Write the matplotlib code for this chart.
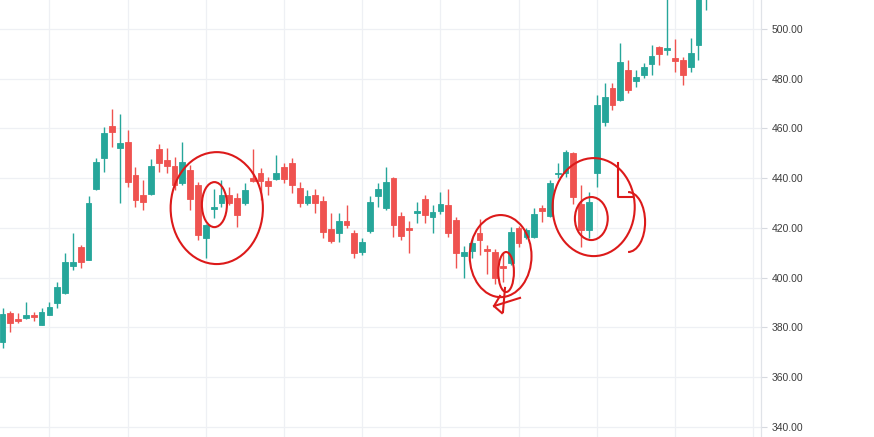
import matplotlib
matplotlib.use("Agg")
import matplotlib.pyplot as plt
from matplotlib.patches import Ellipse, Arc

# candle data (index = candle number)
opens = [374.0, 386.0, 383.5, 384.0, 384.9, 381.0, 385.0, 389.7, 393.7, 404.7,
         412.2, 407.1, 435.6, 448.0, 461.0, 452.0, 454.7, 441.3, 433.3, 433.7,
         451.6, 447.3, 445.0, 438.0, 443.3, 437.3, 415.9, 427.5, 429.9, 433.3,
         431.9, 429.9, 440.0, 442.0, 439.0, 439.6, 444.6, 446.0, 436.0, 430.2,
         433.3, 430.8, 419.6, 417.9, 422.9, 417.9, 410.5, 418.9, 432.9, 427.9,
         440.0, 424.9, 419.9, 425.9, 431.5, 424.5, 427.0, 429.2, 423.2, 408.8,
         410.9, 417.9, 411.6, 410.5, 404.7, 405.8, 419.9, 416.5, 416.2, 428.1,
         424.8, 441.6, 442.2, 450.0, 429.5, 419.2, 442.0, 462.7, 476.1, 471.5,
         483.5, 479.2, 481.5, 485.9, 492.6, 491.6, 488.2, 487.5, 484.8, 493.6,
         518.0]
highs = [387.8, 386.8, 386.0, 390.4, 386.2, 387.7, 390.4, 398.2, 410.1, 417.9,
         413.2, 432.9, 448.0, 460.7, 467.7, 465.8, 459.4, 444.6, 439.3, 447.6,
         453.6, 452.0, 448.7, 454.7, 445.3, 438.6, 421.5, 435.5, 439.3, 436.6,
         434.0, 438.0, 451.6, 444.0, 440.6, 449.3, 446.0, 448.0, 438.6, 435.3,
         435.6, 432.9, 425.9, 425.9, 429.2, 419.2, 415.9, 432.9, 438.0, 444.4,
         440.6, 426.6, 422.7, 430.6, 433.3, 429.2, 434.6, 435.6, 424.3, 412.8,
         415.9, 423.5, 413.2, 411.4, 409.8, 420.5, 420.8, 420.0, 427.9, 429.2,
         439.3, 446.0, 451.4, 450.7, 437.3, 434.6, 473.5, 478.2, 478.2, 494.5,
         487.5, 483.5, 486.2, 493.6, 493.2, 515.0, 495.8, 488.9, 496.2, 520.0,
         530.0]
lows = [371.8, 378.3, 381.8, 383.4, 382.6, 381.0, 384.9, 387.7, 393.5, 403.1,
        403.8, 407.0, 435.3, 442.6, 452.7, 429.9, 436.6, 428.6, 427.2, 433.3,
        442.6, 442.2, 435.3, 437.3, 427.2, 415.2, 407.8, 423.9, 428.6, 429.2,
        420.5, 429.2, 438.6, 431.3, 433.3, 439.3, 438.0, 434.0, 428.3, 429.2,
        426.2, 415.9, 413.8, 414.5, 419.9, 407.8, 409.2, 417.9, 428.6, 427.2,
        416.3, 415.2, 409.8, 421.9, 421.9, 417.9, 425.6, 416.5, 403.8, 399.8,
        407.8, 409.2, 401.5, 397.5, 398.4, 405.1, 412.4, 415.5, 415.9, 422.5,
        424.3, 440.0, 440.4, 429.6, 412.4, 415.9, 436.6, 461.0, 467.4, 471.2,
        474.1, 476.8, 480.2, 481.5, 485.5, 489.5, 482.8, 477.5, 482.8, 487.5,
        507.5]
closes = [385.4, 381.8, 382.6, 384.9, 384.2, 386.2, 388.1, 396.4, 406.5, 406.5,
          406.5, 429.9, 446.7, 458.1, 458.7, 454.3, 438.6, 431.3, 430.6, 444.9,
          446.0, 444.9, 437.3, 446.4, 431.7, 417.2, 421.2, 428.3, 433.3, 429.9,
          425.2, 435.3, 439.0, 439.0, 436.9, 442.0, 439.6, 437.3, 429.9, 432.7,
          429.9, 418.5, 414.9, 422.9, 421.2, 409.8, 414.3, 430.6, 435.6, 438.6,
          421.2, 416.8, 419.2, 426.8, 425.2, 426.3, 429.5, 417.9, 410.1, 410.5,
          414.1, 415.2, 410.9, 399.8, 403.8, 418.5, 413.8, 419.0, 425.6, 426.9,
          438.2, 442.2, 450.7, 432.6, 419.2, 430.6, 469.4, 472.8, 469.4, 486.9,
          475.5, 480.6, 484.9, 489.1, 490.0, 492.5, 487.3, 481.5, 490.5, 516.0,
          525.0]

price_ticks = [340, 360, 380, 400, 420, 440, 460, 480, 500]

up_col = '#26a69a'
down_col = '#ef5350'
pen = '#dc1a1a'

fig = plt.figure(figsize=(8.74, 4.37), dpi=100)
ax = fig.add_axes([0, 0, 760.7 / 874, 1])

n = len(opens)
idx = list(range(n))
cols = [up_col if c >= o else down_col for o, c in zip(opens, closes)]
bottoms = [min(o, c) for o, c in zip(opens, closes)]
heights = [abs(c - o) for o, c in zip(opens, closes)]

ax.vlines(idx, lows, highs, colors=cols, linewidth=1.0, zorder=3)
ax.bar(idx, heights, bottom=bottoms, width=0.74, color=cols,
       edgecolor=cols, linewidth=0.6, zorder=4)

ax.set_xlim(-0.32, 96.96)
ax.set_ylim(335.97, 511.66)

# grid
for p in price_ticks:
    ax.axhline(p, color='#eef0f4', linewidth=0.9, zorder=0)
for g in range(6, 100, 10):
    ax.axvline(g, color='#eef0f4', linewidth=0.9, zorder=0)

ax.set_xticks([])
ax.yaxis.tick_right()
ax.set_yticks(price_ticks)
ax.set_yticklabels([f'{p:.2f}' for p in price_ticks])
ax.tick_params(axis='y', length=4, width=0.8, color='#d6d9df', pad=4,
               labelsize=7.5, labelcolor='#3d3d3d')
for lab in ax.get_yticklabels():
    lab.set_family('Liberation Sans')
for s in ['top', 'left', 'bottom']:
    ax.spines[s].set_visible(False)
ax.spines['right'].set_color('#e0e3e8')
ax.spines['right'].set_linewidth(0.9)

# hand-drawn marks
marks = [
    (27.4, 428.0, 11.8, 45.0),
    (27.1, 429.4, 3.2, 18.1),
    (63.7, 408.7, 7.9, 33.0),
    (64.4, 402.3, 2.0, 16.1),
    (75.6, 428.4, 10.5, 39.4),
    (75.3, 423.8, 4.2, 17.3),
]
for cx, cy, w, h in marks:
    ax.add_patch(Ellipse((cx, cy), w, h, fill=False, edgecolor=pen,
                         linewidth=1.5, zorder=6))
ax.add_patch(Arc((80.0, 422.4), 4.35, 24.1, theta1=-90, theta2=90,
                 edgecolor=pen, linewidth=1.5, zorder=6))
ax.plot([64.26, 64.0], [395.9, 386.2], color=pen, lw=1.5, zorder=6)
ax.plot([62.85, 66.18], [388.6, 391.9], color=pen, lw=1.5, zorder=6)
ax.plot([63.62, 62.85, 63.87], [392.7, 388.6, 385.8], color=pen, lw=1.5, zorder=6)
ax.plot([78.7, 78.7, 80.6], [446.0, 432.4, 432.4], color=pen, lw=1.5, zorder=6)

fig.savefig('out.png', dpi=100)
